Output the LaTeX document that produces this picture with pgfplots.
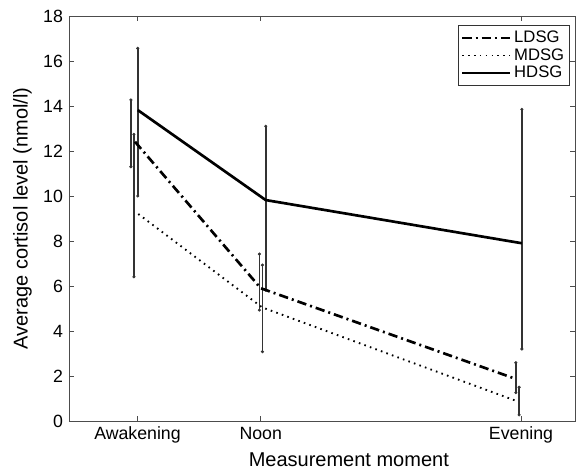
\documentclass[border=0pt]{standalone}
\usepackage{pgfplots}
\pgfplotsset{compat=1.18}
\usepackage{fontspec}
\setmainfont{Liberation Sans}

\pgfplotsset{
    errbar/.style={draw=none, mark=none, forget plot,
        error bars/.cd, y dir=both, y explicit,
        error bar style={draw=black!80, draw opacity=1, solid, line width=1.2pt},
        error mark=*,
        error mark options={draw=black!80, fill=black!80, solid, mark size=0.9pt, line width=0.5pt}},
}

\begin{document}
\begin{tikzpicture}
\begin{axis}[
    name=main,
    scale only axis,
    width=379.5pt, height=303.75pt,
    xmin=5, xmax=23.47,
    ymin=0, ymax=18,
    xtick={7.5,12,21.5},
    xticklabels={Awakening, Noon, Evening},
    ytick={0,2,...,18},
    tick align=inside,
    major tick length=3.5pt,
    axis line style={draw=black!70, line width=0.6pt},
    tick style={draw=black!70, line width=0.5pt},
    /pgf/number format/assume math mode=true,
    tick label style={font=\fontsize{13.3}{15}\selectfont},
    xticklabel style={yshift=-1pt},
    yticklabel style={xshift=-1pt},
    xlabel={Measurement moment},
    ylabel={Average cortisol level (nmol/l)},
    label style={font=\fontsize{15}{17}\selectfont},
    xlabel style={at={(axis description cs:0.553,-0.096)}, anchor=center},
    ylabel style={at={(axis description cs:-0.0922,0.5)}, anchor=center},
    legend style={at={(rel axis cs:0.99,0.977)}, anchor=north east,
        draw=black!80, line width=0.6pt, font=\fontsize{12.5}{14}\selectfont,
        inner sep=2pt, row sep=-1pt},
    legend cell align=left,
    legend image code/.code={\draw[#1] (0pt,0pt) -- (36pt,0pt);},
]
% error bars, slightly offset per group
\addplot[errbar] coordinates {
    (7.26,12.41) += (0,1.86) -= (0,1.11)
    (11.95,5.90) += (0,1.52) -= (0,0.97)
    (21.31,1.97) += (0,0.62) -= (0,0.71)
};
\addplot[errbar] coordinates {
    (7.37,9.30) += (0,3.44) -= (0,2.89)
    (12.06,5.05) += (0,1.88) -= (0,1.97)
    (21.43,0.95) += (0,0.55) -= (0,0.68)
};
\addplot[errbar] coordinates {
    (7.51,13.82) += (0,2.74) -= (0,3.82)
    (12.18,9.87) += (0,3.23) -= (0,4.05)
    (21.53,7.92) += (0,5.93) -= (0,4.72)
};
% group means
\addplot[black, line width=2pt, dash pattern=on 7pt off 3pt on 1.5pt off 3pt]
    coordinates {(7.41,12.41) (12.0,5.90) (21.24,1.90)};
\addlegendentry{LDSG}
\addplot[black, line width=1.4pt, dash pattern=on 1.2pt off 3.2pt]
    coordinates {(7.53,9.20) (12.05,5.05) (21.31,0.90)};
\addlegendentry{MDSG}
\addplot[black, line width=2pt]
    coordinates {(7.51,13.82) (12.18,9.82) (21.53,7.90)};
\addlegendentry{HDSG}
\end{axis}
% page margins as in the reference figure
\path ([shift={(-51.75pt,-38.25pt)}]main.south west) rectangle ([shift={(3.75pt,12pt)}]main.north east);
\end{tikzpicture}
\end{document}
